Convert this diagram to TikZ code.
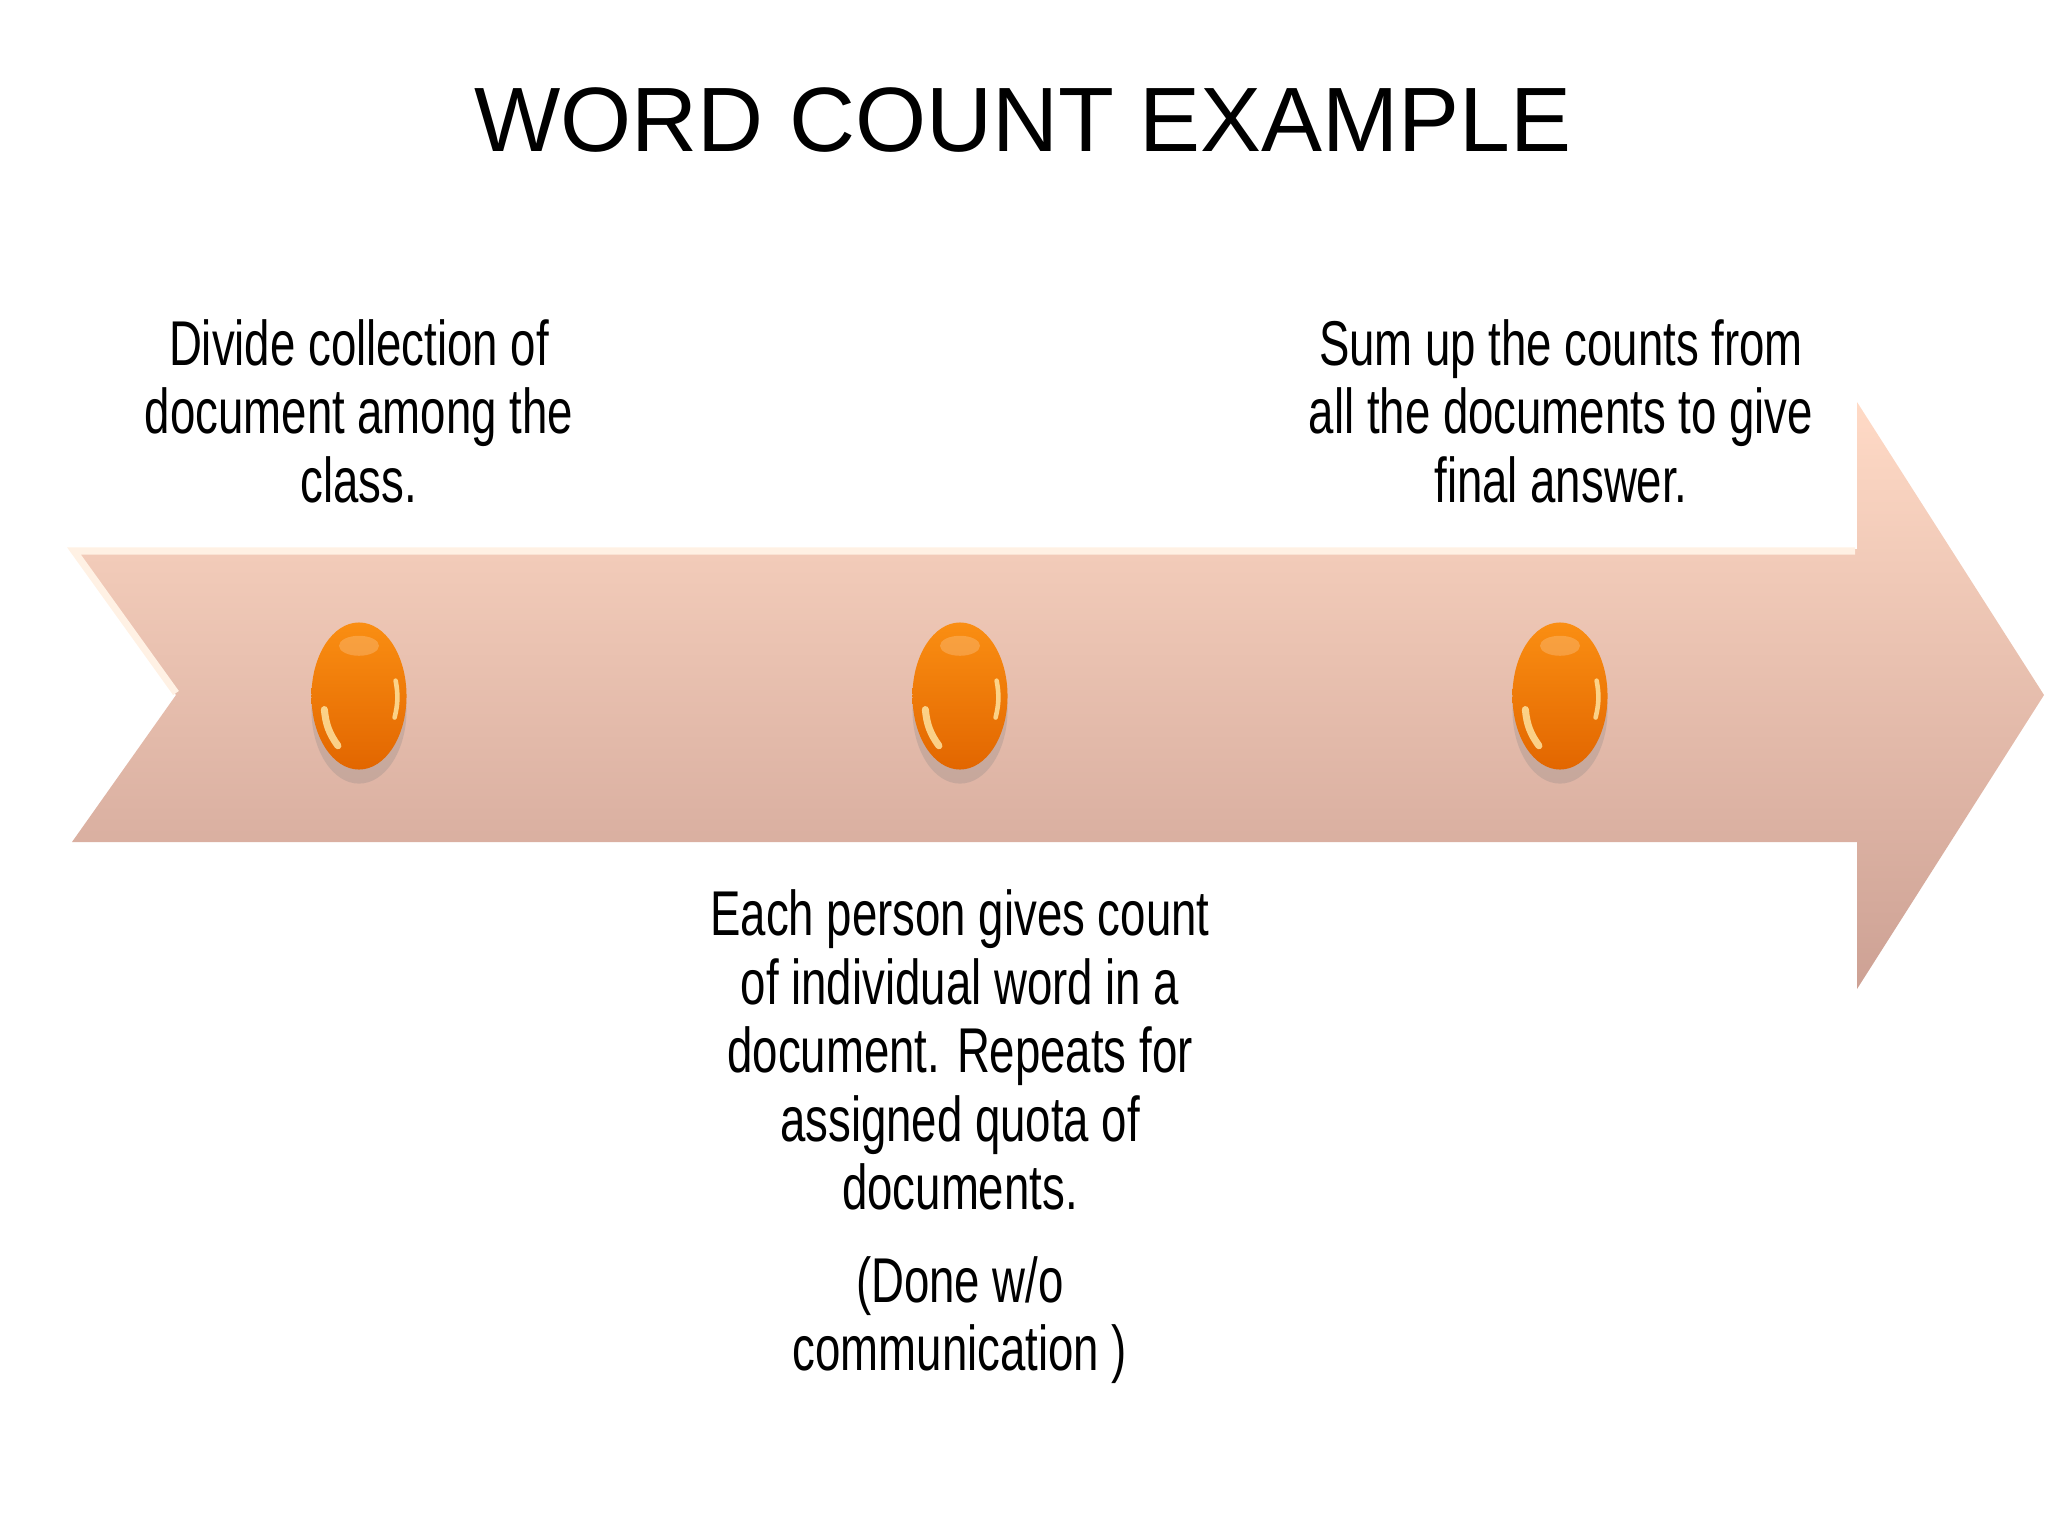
\documentclass[tikz,border=0pt]{standalone}
\usepackage{fontspec}
\setmainfont{Liberation Sans}
\newfontfamily\narrowfont[FakeStretch=0.72]{Liberation Sans}
\usetikzlibrary{positioning,shapes.geometric,shadows}

\definecolor{peachtop}{HTML}{FFDAC6}
\definecolor{peachmid}{HTML}{FCCBB6}
\definecolor{peachbot}{HTML}{CDA194}
\definecolor{rimlight}{HTML}{FFF1E4}
\definecolor{dottop}{HTML}{FA8E12}
\definecolor{dotbot}{HTML}{E26600}
\definecolor{glintcol}{HTML}{FFE9A8}

\begin{document}
\begin{tikzpicture}[x=0.01cm, y=-0.01cm,
  steptext/.style={font=\narrowfont\fontsize{18}{19.5}\selectfont, align=center, inner sep=0pt},
  dot/.style={ellipse, minimum width=0.95cm, minimum height=1.47cm, inner sep=0pt,
    top color=dottop, bottom color=dotbot,
    drop shadow={opacity=0.25, shadow xshift=0pt, shadow yshift=-4pt}},
  glint/.style={glintcol, line width=2pt, line cap=round, opacity=0.8}]

\useasboundingbox (0,0) rectangle (2048,1536);

\node (title) at (1023,120) {\fontsize{26}{30}\selectfont WORD COUNT EXAMPLE};

% the arrow
\path[top color=peachtop, middle color=peachmid, bottom color=peachbot]
  (72,549) -- (1857,549) -- (1857,402) -- (2044,695) -- (1857,989)
  -- (1857,842) -- (72,842) -- (176,695) -- cycle;
\draw[rimlight, line width=2pt] (176,693) -- (74,551) -- (1855,551);

\node[dot] (d1) at (359,696) {};
\node[dot] (d2) at (960,696) {};
\node[dot] (d3) at (1560,696) {};

\foreach \d in {d1,d2,d3} {
  \fill[white, opacity=0.2] ([yshift=-0.24cm]\d.north) ellipse (0.2cm and 0.1cm);
  \draw[glint] ([xshift=3.5pt,yshift=1pt]\d.200) to[bend right=15] ([xshift=2pt,yshift=3pt]\d.245);
  \draw[glint, line width=1.3pt] ([xshift=-3pt]\d.18) to[bend left=12] ([xshift=-3pt]\d.-25);
}

\node[steptext] (t1) at (359,411) {Divide collection of\\ document among the\\ class.};
\node[steptext] (t3) at (1561,411) {Sum up the counts from\\ all the documents to give\\ final answer.};
\node[steptext] (t2) at (960,1050) {Each person gives count\\ of individual word in a\\ document. Repeats for\\ assigned quota of\\ documents.};
\node[steptext] (t2b) at (960,1320) {(Done w/o\\ communication )};

\end{tikzpicture}
\end{document}
